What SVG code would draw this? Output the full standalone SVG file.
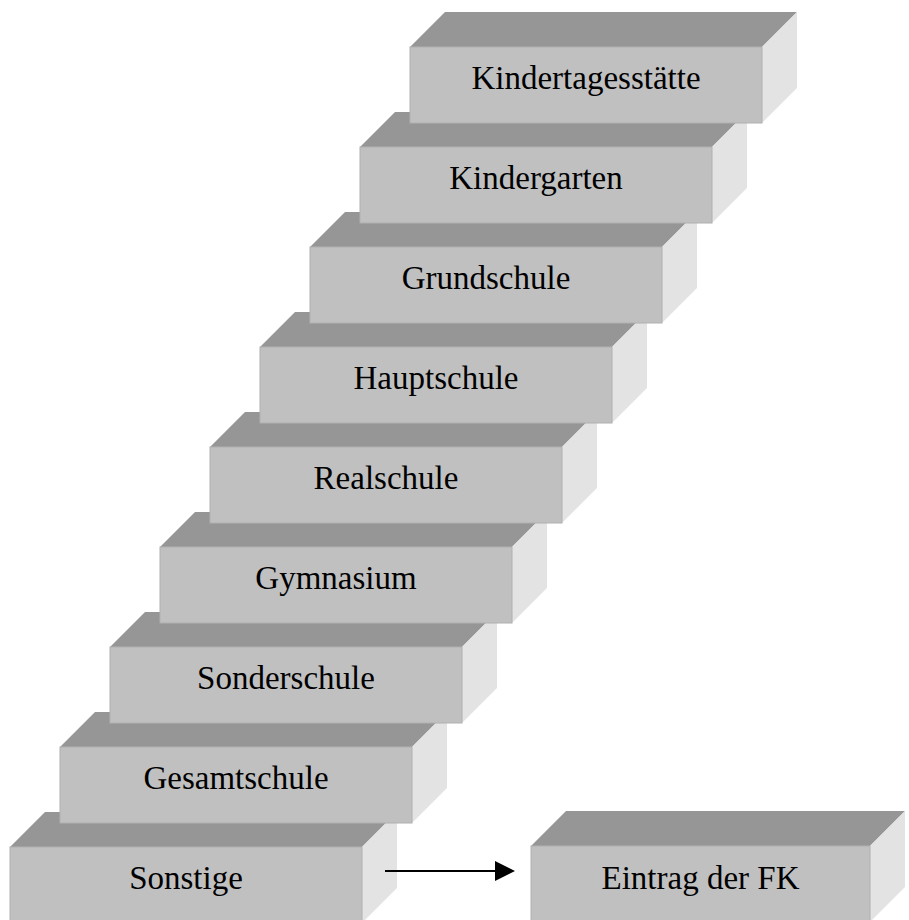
<svg xmlns="http://www.w3.org/2000/svg" width="909" height="920" viewBox="0 0 909 920">
  <style>
    .front { fill: #c0c0c0; stroke: #b0b0b0; stroke-width: 1; }
    .top { fill: #969696; }
    .side { fill: #e3e3e3; }
    .label { font-family: "Liberation Serif", "Times New Roman", serif; font-size: 33px; fill: #000; text-anchor: middle; }
    .conn { stroke: #000; stroke-width: 2; fill: none; }
  </style>
  <defs>
    <!-- 3D step block, origin at top-left corner of the front face -->
    <g id="block">
      <polygon class="top" points="0,0 35,-35 387,-35 352,0"/>
      <polygon class="side" points="352,0 387,-35 387,41 352,76"/>
      <rect class="front" x="0" y="0" width="352" height="76"/>
    </g>
    <g id="blockNarrow">
      <polygon class="top" points="0,0 35,-35 374,-35 339,0"/>
      <polygon class="side" points="339,0 374,-35 374,41 339,76"/>
      <rect class="front" x="0" y="0" width="339" height="76"/>
    </g>
    <marker id="arrowhead" markerWidth="20" markerHeight="20" refX="0" refY="10" orient="auto" markerUnits="userSpaceOnUse" viewBox="0 0 20 20">
      <polygon points="0,0 20,10 0,20" fill="#000"/>
    </marker>
  </defs>

  <!-- staircase, drawn from the lowest step upwards -->
  <g id="sonstige" transform="translate(10,847)">
    <use href="#block"/>
    <text class="label" x="176" y="42">Sonstige</text>
  </g>
  <g id="gesamtschule" transform="translate(60,747)">
    <use href="#block"/>
    <text class="label" x="176" y="42">Gesamtschule</text>
  </g>
  <g id="sonderschule" transform="translate(110,647)">
    <use href="#block"/>
    <text class="label" x="176" y="42">Sonderschule</text>
  </g>
  <g id="gymnasium" transform="translate(160,547)">
    <use href="#block"/>
    <text class="label" x="176" y="42">Gymnasium</text>
  </g>
  <g id="realschule" transform="translate(210,447)">
    <use href="#block"/>
    <text class="label" x="176" y="42">Realschule</text>
  </g>
  <g id="hauptschule" transform="translate(260,347)">
    <use href="#block"/>
    <text class="label" x="176" y="42">Hauptschule</text>
  </g>
  <g id="grundschule" transform="translate(310,247)">
    <use href="#block"/>
    <text class="label" x="176" y="42">Grundschule</text>
  </g>
  <g id="kindergarten" transform="translate(360,147)">
    <use href="#block"/>
    <text class="label" x="176" y="42">Kindergarten</text>
  </g>
  <g id="kindertagesstaette" transform="translate(410,47)">
    <use href="#block"/>
    <text class="label" x="176" y="42">Kindertagesstätte</text>
  </g>

  <!-- target block -->
  <g id="eintrag" transform="translate(531,846)">
    <use href="#blockNarrow"/>
    <text class="label" x="169.5" y="43">Eintrag der FK</text>
  </g>

  <!-- connectors -->
  <g id="connectors">
    <line class="conn" x1="385" y1="871" x2="495" y2="871" marker-end="url(#arrowhead)"/>
  </g>
</svg>
